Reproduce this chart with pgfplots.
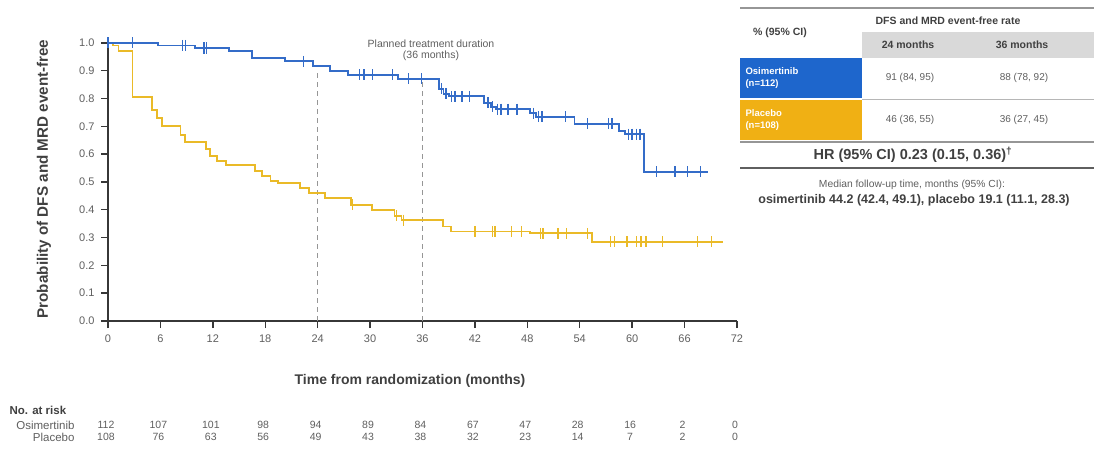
\documentclass[border=0pt]{standalone}
\usepackage{pgfplots}
\pgfplotsset{compat=1.18}
\usepackage{fontspec}
\setmainfont{Liberation Sans}

\definecolor{osiblue}{RGB}{52,108,200}
\definecolor{placgold}{RGB}{234,186,40}
\definecolor{cellblue}{RGB}{30,102,204}
\definecolor{cellgold}{RGB}{240,176,20}
\definecolor{hdrgray}{RGB}{217,217,217}
\definecolor{txtgray}{RGB}{64,64,64}
\definecolor{lblgray}{RGB}{95,95,95}
\definecolor{axgray}{RGB}{55,55,55}
\definecolor{rulegray}{RGB}{150,150,150}

% Kaplan-Meier steps: (time, survival) holds from time onward
\pgfplotstableread{
t s
0 1.000
5.7 0.991
10.0 0.982
13.8 0.972
16.5 0.946
20.3 0.934
23.5 0.917
25.4 0.898
27.5 0.886
33.2 0.872
37.9 0.835
38.4 0.818
39.0 0.808
43.0 0.785
43.8 0.770
44.4 0.762
48.3 0.748
49.0 0.735
53.4 0.710
58.5 0.684
59.2 0.672
61.4 0.537
68.7 0.537
}\osikm
\pgfplotstableread{
t s
0 1.000
2.8 1.000
8.5 0.991
8.9 0.991
11.0 0.982
11.3 0.982
22.4 0.934
28.8 0.886
29.3 0.886
30.3 0.886
32.6 0.886
34.4 0.872
35.9 0.872
38.2 0.835
38.7 0.818
39.3 0.808
39.7 0.808
40.5 0.808
41.4 0.808
43.5 0.785
44.0 0.770
44.6 0.762
45.0 0.762
45.8 0.762
46.8 0.762
48.7 0.748
49.3 0.735
49.7 0.735
52.4 0.735
54.9 0.710
57.3 0.710
57.7 0.710
59.6 0.672
60.0 0.672
60.5 0.672
60.9 0.672
62.8 0.537
64.9 0.537
66.3 0.537
67.8 0.537
}\osicens
\pgfplotstableread{
t s
0 1.000
0.6 0.991
1.2 0.972
2.8 0.805
5.0 0.760
5.6 0.730
6.2 0.700
8.3 0.670
8.8 0.645
11.2 0.620
11.7 0.595
12.5 0.575
13.5 0.560
16.8 0.540
17.6 0.520
18.6 0.505
19.5 0.495
22.0 0.480
23.0 0.462
24.8 0.443
27.8 0.418
30.2 0.400
32.8 0.378
33.6 0.363
38.3 0.340
39.3 0.322
48.3 0.315
55.4 0.285
70.4 0.285
}\plakm
\pgfplotstableread{
t s
28.0 0.418
33.0 0.378
33.8 0.363
42.0 0.322
44.0 0.322
44.3 0.322
46.2 0.322
47.3 0.322
49.5 0.315
49.8 0.315
51.5 0.315
52.5 0.315
54.9 0.315
57.5 0.285
58.0 0.285
59.4 0.285
60.5 0.285
61.0 0.285
61.6 0.285
63.5 0.285
67.5 0.285
69.1 0.285
}\placens

\begin{document}
\begin{tikzpicture}[x=1pt,y=1pt]
\useasboundingbox (0,0) rectangle (1094,452);
\begin{axis}[
  at={(108pt,131pt)}, anchor=south west,
  scale only axis, width=629pt, height=278pt,
  xmin=0, xmax=72, ymin=0, ymax=1,
  axis x line*=bottom, axis y line*=left,
  axis line style={-, line width=1.8pt, axgray},
  xtick={0,6,...,72},
  ytick={0,0.1,0.2,0.3,0.4,0.5,0.6,0.7,0.8,0.9,1.0},
  yticklabel style={/pgf/number format/fixed, /pgf/number format/fixed zerofill, /pgf/number format/precision=1, xshift=-3pt},
  /pgf/number format/assume math mode=true,
  tick align=outside, major tick length=7pt,
  tick style={line width=1.4pt, axgray},
  ticklabel style={font=\fontsize{11}{13}\selectfont, text=lblgray},
  xticklabel style={yshift=-3pt},
  clip=false,
]
% planned treatment duration markers
\addplot[line width=1.1pt, rulegray, dash pattern=on 5pt off 4pt] coordinates {(24,0) (24,0.905)};
\addplot[line width=1.1pt, rulegray, dash pattern=on 5pt off 4pt] coordinates {(36,0) (36,0.862)};
% survival curves
\addplot[const plot, placgold, line width=1.9pt] table[x=t,y=s] {\plakm};
\addplot[only marks, mark=|, mark size=5.5pt, placgold, mark options={line width=1.4pt}] table[x=t,y=s] {\placens};
\addplot[const plot, osiblue, line width=1.9pt] table[x=t,y=s] {\osikm};
\addplot[only marks, mark=|, mark size=5.5pt, osiblue, mark options={line width=1.4pt}] table[x=t,y=s] {\osicens};
% numbers at risk
\foreach \t/\a/\b in {0/112/108, 6/107/76, 12/101/63, 18/98/56, 24/94/49, 30/89/43, 36/84/38, 42/67/32, 48/47/23, 54/28/14, 60/16/7, 66/2/2, 72/0/0}{
  \edef\tmp{\noexpand\node[font=\noexpand\fontsize{10.5}{12}\noexpand\selectfont, text=lblgray, anchor=center, xshift=-2pt] at (axis cs:\t,0) [yshift=-104pt] {\a};
  \noexpand\node[font=\noexpand\fontsize{10.5}{12}\noexpand\selectfont, text=lblgray, anchor=center, xshift=-2pt] at (axis cs:\t,0) [yshift=-116pt] {\b};}
  \tmp
}
\end{axis}

% axis titles
\node[rotate=90, font=\fontsize{15.2}{17}\selectfont\bfseries, text=txtgray] at (44,273) {Probability of DFS and MRD event-free};
\node[font=\fontsize{14}{16}\selectfont\bfseries, text=txtgray] at (410,71) {Time from randomization (months)};
\node[font=\fontsize{10.5}{12}\selectfont, text=lblgray, align=center] at (431,402) {Planned treatment duration\\[-1pt](36 months)};

% at-risk labels
\node[anchor=west, font=\fontsize{11.5}{13}\selectfont\bfseries, text=txtgray] at (6,42) {No. at risk};
\node[anchor=east, font=\fontsize{11.5}{13}\selectfont, text=lblgray] at (78,27) {Osimertinib};
\node[anchor=east, font=\fontsize{11.5}{13}\selectfont, text=lblgray] at (78,15) {Placebo};

% summary table
\fill[hdrgray] (862,394) rectangle (1094,420);
\fill[cellblue] (740,354) rectangle (862,394);
\fill[cellgold] (740,312) rectangle (862,352);
\draw[rulegray, line width=1.5pt] (740,444) -- (1094,444);
\draw[rulegray!70, line width=0.8pt] (862,353) -- (1094,353);
\draw[rulegray, line width=1.2pt] (740,310) -- (1094,310);
\draw[axgray!80, line width=2pt] (740,284) -- (1094,284);
\node[font=\fontsize{10.5}{12}\selectfont\bfseries, text=txtgray] at (780,419) {\% (95\% CI)};
\node[font=\fontsize{10.5}{12}\selectfont\bfseries, text=txtgray] at (948,431) {DFS and MRD event-free rate};
\node[font=\fontsize{10.5}{12}\selectfont\bfseries, text=txtgray] at (908,407) {24 months};
\node[font=\fontsize{10.5}{12}\selectfont\bfseries, text=txtgray] at (1022,407) {36 months};
\node[anchor=west, font=\fontsize{9.5}{11.5}\selectfont\bfseries, text=white, align=left] at (742,374) {Osimertinib\\(n=112)};
\node[anchor=west, font=\fontsize{9.5}{11.5}\selectfont\bfseries, text=white, align=left] at (742,332) {Placebo\\(n=108)};
\node[font=\fontsize{10}{12}\selectfont, text=lblgray] at (910,374) {91 (84, 95)};
\node[font=\fontsize{10}{12}\selectfont, text=lblgray] at (1024,374) {88 (78, 92)};
\node[font=\fontsize{10}{12}\selectfont, text=lblgray] at (910,332) {46 (36, 55)};
\node[font=\fontsize{10}{12}\selectfont, text=lblgray] at (1024,332) {36 (27, 45)};
\node[font=\fontsize{14.5}{16}\selectfont\bfseries, text=txtgray] at (913,297) {HR (95\% CI) 0.23 (0.15, 0.36)\textsuperscript{\dag}};
\node[font=\fontsize{10.3}{12}\selectfont, text=lblgray] at (912,267) {Median follow-up time, months (95\% CI):};
\node[font=\fontsize{12.5}{14}\selectfont\bfseries, text=txtgray] at (914,252) {osimertinib 44.2 (42.4, 49.1), placebo 19.1 (11.1, 28.3)};
\end{tikzpicture}
\end{document}
